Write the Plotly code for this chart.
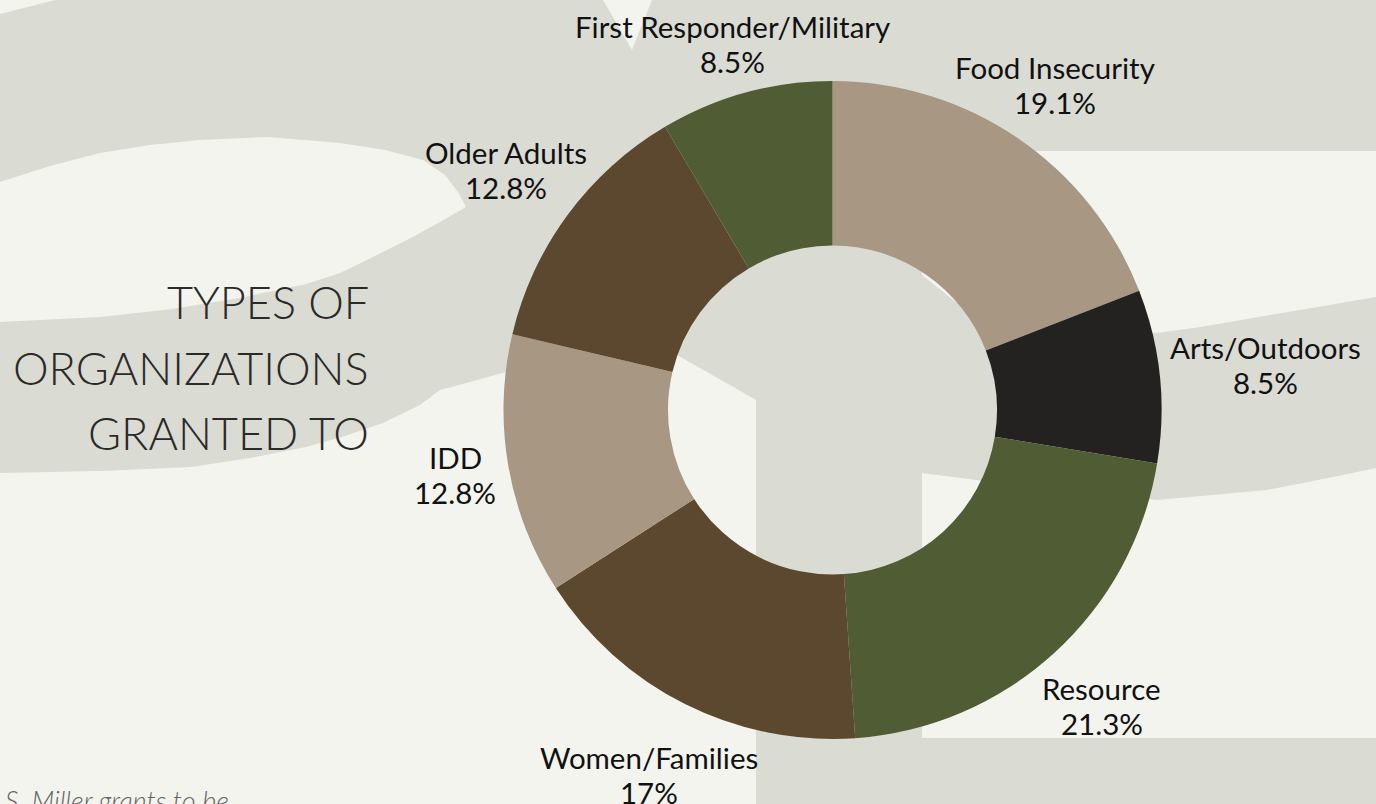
import math
import plotly.graph_objects as go

# ---- data ----
categories = ["Food Insecurity", "Arts/Outdoors", "Resource", "Women/Families",
              "IDD", "Older Adults", "First Responder/Military"]
shares = [19.1, 8.5, 21.3, 17, 12.8, 12.8, 8.5]
slice_colors = ["#A89783", "#232220", "#505C33", "#5C482F",
                "#A89783", "#5C482F", "#505C33"]
title_lines = ["TYPES OF", "ORGANIZATIONS", "GRANTED TO"]
footnote = "S. Miller grants to be"

W, H = 1376, 804
GRAY = "#DADBD3"
LIGHT = "#F3F4EE"
LABEL_SIZE = 29.5


def px(x):
    return x / W


def py(y):
    return 1 - y / H


def path(points):
    return "M " + " L ".join(f"{px(x):.5f},{py(y):.5f}" for x, y in points) + " Z"


# approximate Lato advance widths (em) used to size the outside labels
_CW = {"A": .68, "F": .54, "I": .27, "O": .78, "R": .60, "W": .98, "D": .73, "M": .91,
       "a": .50, "c": .44, "d": .56, "e": .52, "f": .32, "i": .24, "l": .24, "m": .83,
       "n": .56, "o": .56, "p": .56, "r": .37, "s": .42, "t": .34, "u": .56, "y": .50,
       "/": .37, "%": .76, ".": .23, " ": .19}


def text_w(s, size):
    return sum(_CW.get(ch, .56) for ch in s) * size


light_regions = [
    [(0, 182), (50, 166), (100, 153), (150, 145), (200, 140), (268, 137), (340, 143),
     (385, 150), (423, 160), (445, 175), (458, 192), (466, 207), (440, 222),
     (407, 240), (373, 257), (340, 273), (306, 284), (240, 298), (172, 309),
     (100, 317), (0, 322)],
    [(0, 473), (100, 471), (191, 467), (250, 458), (306, 447), (345, 436), (383, 423),
     (420, 405), (440, 390), (470, 382), (506, 372), (580, 355), (668, 350),
     (700, 368), (756, 400), (756, 804), (0, 804)],
    [(922, 151), (1376, 151), (1376, 297), (1300, 310), (1200, 327), (1157, 333),
     (1050, 325), (957, 303), (922, 275)],
    [(922, 473), (1000, 483), (1157, 500), (1267, 490), (1333, 477), (1376, 468),
     (1376, 738), (922, 738)],
    [(603, 0), (652, 0), (632, 50)],
    [(0, 0), (55, 0), (0, 14)],
]

shapes = [dict(type="path", path=path(p), xref="paper", yref="paper",
               fillcolor=LIGHT, line=dict(width=0), layer="below")
          for p in light_regions]

cx, cy, r = 832.5, 410, 329

fig = go.Figure(go.Pie(
    labels=categories,
    values=shares,
    marker=dict(colors=slice_colors, line=dict(width=0)),
    hole=0.5,
    sort=False,
    direction="clockwise",
    rotation=0,
    textinfo="none",
    hoverinfo="none",
    showlegend=False,
    domain=dict(x=[px(cx - r), px(cx + r)], y=[py(cy + r), py(cy - r)]),
))

annotations = []

# outside labels placed along each slice's mid-angle ray
total = sum(shares)
cum = 0.0
for lab, val in zip(categories, shares):
    mid = (cum + val / 2) / total * 2 * math.pi
    cum += val
    ux, uy = math.sin(mid), -math.cos(mid)
    pct = f"{val / total * 100:.1f}".rstrip("0").rstrip(".") + "%"
    hw = max(text_w(lab, LABEL_SIZE), text_w(pct, LABEL_SIZE)) / 2
    hh = 33 if uy <= 0 else 60
    dist = r + 9 + 5 * ux ** 2 + hw * ux ** 2 + hh * uy ** 2
    lx, ly = cx + ux * dist, cy + uy * dist
    for txt, dy in ((lab, -17.5), (pct, 17.5)):
        annotations.append(dict(
            text=txt, x=px(lx), y=py(ly + dy), xref="paper", yref="paper",
            xanchor="center", yanchor="middle", showarrow=False,
            font=dict(family="Lato", size=LABEL_SIZE, color="#111111"),
        ))

title_y = [302, 368, 433]
for line, yy in zip(title_lines, title_y):
    annotations.append(dict(
        text=line, x=px(371), y=py(yy), xref="paper", yref="paper",
        xanchor="right", yanchor="middle", showarrow=False,
        font=dict(family="Lato", size=45, color="#2A2A28", weight=300),
    ))
annotations.append(dict(
    text=f"<i>{footnote}</i>", x=px(3), y=py(800), xref="paper", yref="paper",
    xanchor="left", yanchor="middle", showarrow=False,
    font=dict(family="Lato", size=27, color="#646464", weight=300),
))

fig.update_layout(
    width=W, height=H,
    margin=dict(l=0, r=0, t=0, b=0),
    paper_bgcolor=GRAY,
    plot_bgcolor=GRAY,
    shapes=shapes,
    annotations=annotations,
    showlegend=False,
)

fig.write_html("out.html", config={"displayModeBar": False},
               post_script="document.body.style.margin='0';document.body.style.overflow='hidden';")
